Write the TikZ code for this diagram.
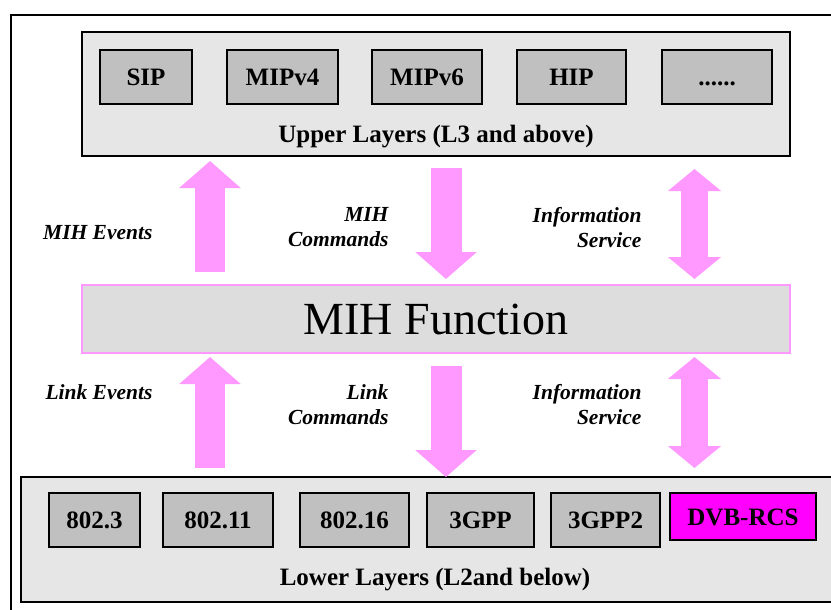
\documentclass[tikz,border=0pt]{standalone}
\usepackage{fontspec}
\setmainfont{Liberation Serif}
\usetikzlibrary{positioning,arrows.meta}
\definecolor{pilfarg}{HTML}{FF99FF}
\definecolor{lagerfarg}{HTML}{E6E6E6}
\definecolor{boxfarg}{HTML}{C0C0C0}
\definecolor{mihfarg}{HTML}{DDDDDD}
\definecolor{dvbfarg}{HTML}{FF00FF}

\begin{document}
\begin{tikzpicture}[x=1pt,y=-1pt,
    proto/.style={rectangle, draw, line width=1.5pt, fill=boxfarg, inner sep=0pt, outer sep=0pt, minimum height=54pt, text height=17pt, text depth=0pt, font=\fontsize{25}{28}\selectfont\bfseries},
    lager/.style={rectangle, draw, line width=2pt, fill=lagerfarg, inner sep=0pt, outer sep=0pt},
    lagertext/.style={font=\fontsize{25}{28}\selectfont\bfseries},
    etikett/.style={align=right, anchor=east, font=\fontsize{21.5}{25}\selectfont\bfseries\itshape},
    pil/.style={draw=pilfarg, line width=30pt, -{Triangle[length=27pt,width=60pt]}},
    dubbelpil/.style={draw=pilfarg, line width=27pt, {Triangle[length=22pt,width=52pt]}-{Triangle[length=22pt,width=52pt]}}]
    \useasboundingbox (0,0) rectangle (831,610);
    \clip (0,0) rectangle (831,610);
    \fill[white] (0,0) rectangle (831,610);
    \draw[line width=2pt] (11,15) rectangle (845,625);
    % Lager
    \node[lager, minimum width=708pt, minimum height=124pt] (upper) at (436,94) {};
    \node[lager, line width=1.5pt, minimum width=828pt, minimum height=125pt] (lower) at (435,539.5) {};
    \node[rectangle, draw=pilfarg, line width=1.5pt, fill=mihfarg, inner sep=0pt, outer sep=0pt, minimum width=708pt, minimum height=68pt, font=\fontsize{46}{50}\selectfont] (mih) at (436,319) {MIH Function};
    \node[lagertext] (uppertext) at (436,137) {Upper Layers (L3 and above)};
    \node[lagertext] (lowertext) at (435,580) {Lower Layers (L2and below)};
    % Protokoll
    \node[proto, minimum width=92pt] (sip) at (146,77) {SIP};
    \node[proto, minimum width=111pt] (mipv4) at (282.5,77) {MIPv4};
    \node[proto, minimum width=110pt] (mipv6) at (427,77) {MIPv6};
    \node[proto, minimum width=109pt] (hip) at (571.5,77) {HIP};
    \node[proto, minimum width=110pt] (fler) at (717,77) {......};
    \node[proto, minimum width=91pt] (e3) at (94.5,520) {802.3};
    \node[proto, minimum width=110pt] (e11) at (218,520) {802.11};
    \node[proto, minimum width=109pt] (e16) at (354.5,520) {802.16};
    \node[proto, minimum width=107pt] (gpp) at (480.5,520) {3GPP};
    \node[proto, minimum width=109pt] (gpp2) at (605.5,520) {3GPP2};
    \node[proto, fill=dvbfarg, minimum width=146pt, minimum height=47pt] (dvb) at (743,516.5) {DVB-RCS};
    % Pilarna
    \coordinate (evx) at (210,0);
    \coordinate (cmdx) at (446,0);
    \coordinate (infx) at (694.5,0);
    \draw[pil, shorten <=13pt, shorten >=5pt] (evx |- mih.north) -- (evx |- upper.south);
    \draw[pil, line width=31pt, shorten <=12pt, shorten >=6pt] (cmdx |- upper.south) -- (cmdx |- mih.north);
    \draw[dubbelpil, shorten <=13pt, shorten >=6pt] (infx |- upper.south) -- (infx |- mih.north);
    \draw[pil, shorten <=9pt, shorten >=4pt] (evx |- lower.north) -- (evx |- mih.south);
    \draw[pil, line width=31pt, shorten <=13pt] (cmdx |- mih.south) -- (cmdx |- lower.north);
    \draw[dubbelpil, shorten <=4pt, shorten >=9pt] (infx |- mih.south) -- (infx |- lower.north);
    % Etiketter
    \node[etikett] (mihev) at (156,233) {MIH Events};
    \node[etikett] (mihcmd) at (392,227.5) {MIH\\Commands};
    \node[etikett] (mihinf) at (645,227.5) {Information\\Service};
    \node[etikett] (linkev) at (156,392) {Link Events};
    \node[etikett] (linkcmd) at (392,405) {Link\\Commands};
    \node[etikett] (linkinf) at (645,405) {Information\\Service};
\end{tikzpicture}
\end{document}
